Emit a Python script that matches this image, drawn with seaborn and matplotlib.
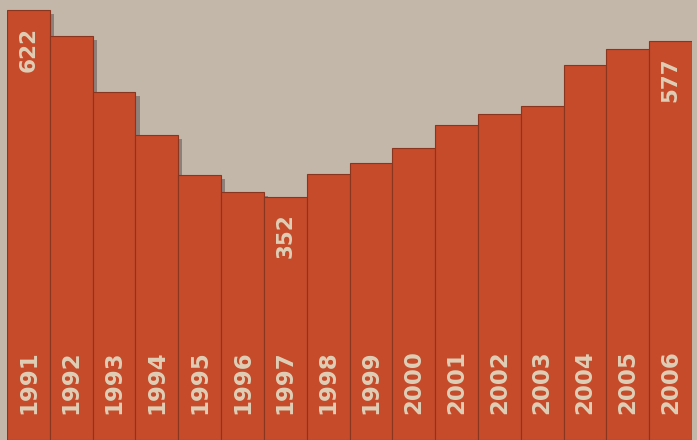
import matplotlib
matplotlib.use("Agg")
import matplotlib.pyplot as plt
import matplotlib.patheffects as pe
import seaborn as sns

# Values
years = ["1991", "1992", "1993", "1994", "1995", "1996", "1997", "1998",
         "1999", "2000", "2001", "2002", "2003", "2004", "2005", "2006"]
values = [622, 584, 503, 441, 383, 359, 352, 384,
          401, 423, 455, 472, 483, 542, 565, 577]
labelled = ["1991", "1997", "2006"]

bar_color = "#c54b2b"
bg_color = "#c2b7a8"
text_color = "#dfcfb6"

sns.set_style("white")
plt.rcParams["font.family"] = ["DejaVu Sans"]

fig = plt.figure(figsize=(6.97, 4.40), dpi=100, facecolor=bg_color)
ax = fig.add_axes([7 / 697, 0, 685 / 697, 437 / 440])
ax.set_facecolor(bg_color)

sns.barplot(x=years, y=values, color=bar_color, saturation=1, width=1.0,
            edgecolor="#8a3520", linewidth=0.8, ax=ax)

# soft shadow to the right of each step, like in the photo
for p in ax.patches:
    p.set_path_effects([pe.SimplePatchShadow(offset=(3, -3), shadow_rgbFace="#3b2f33", alpha=0.4),
                        pe.Normal()])

for i, (yr, v) in enumerate(zip(years, values)):
    ax.annotate(yr, xy=(i, 0), xytext=(0, 19), textcoords="offset points",
                rotation=90, ha="center", va="bottom", fontsize=16.5,
                fontweight="bold", color=text_color)
    if yr in labelled:
        ax.annotate(str(v), xy=(i, v), xytext=(0, -12), textcoords="offset points",
                    rotation=90, ha="center", va="top", fontsize=15.5,
                    fontweight="bold", color=text_color)

ax.set_xlim(-0.5, len(years) - 0.5)
ax.set_ylim(0, 632)
ax.set_axis_off()

fig.savefig("out.png", dpi=100, facecolor=bg_color)
